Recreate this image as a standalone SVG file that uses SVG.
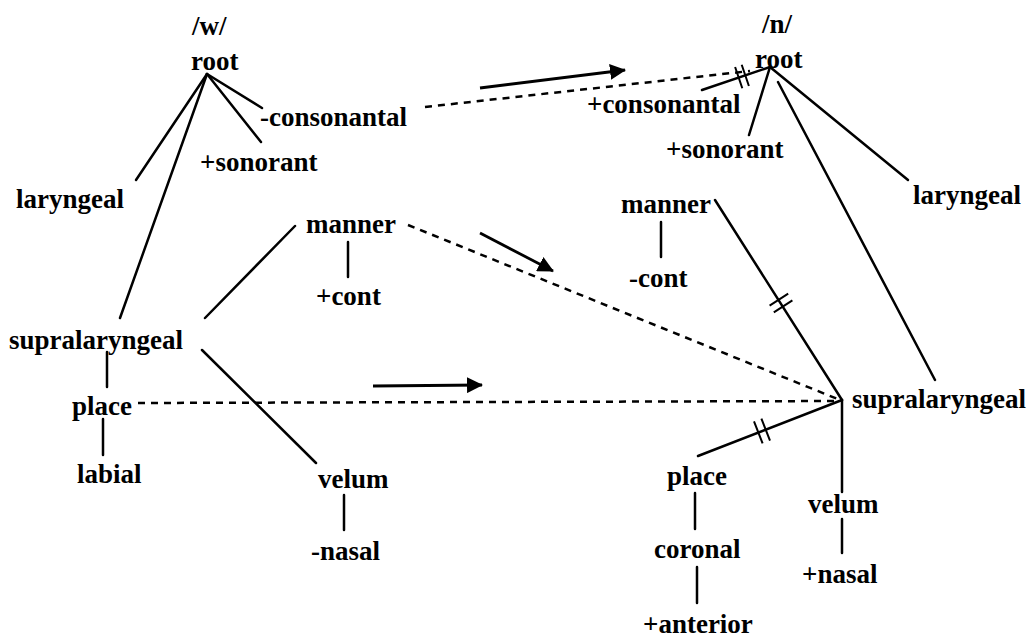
<svg xmlns="http://www.w3.org/2000/svg" width="1029" height="639" viewBox="0 0 1029 639">
<style>
text{font-family:"Liberation Serif","Times New Roman",serif;font-weight:bold;font-size:27px;fill:#000}
.l{stroke:#000;stroke-width:2.5;fill:none;stroke-linecap:round}
.d{stroke:#000;stroke-width:2.5;fill:none;stroke-dasharray:7 6}
.a{stroke:#000;stroke-width:2.8;fill:none;marker-end:url(#ah)}
.h{stroke:#000;stroke-width:2;fill:none}
</style>
<defs>
<marker id="ah" viewBox="0 0 16 16" refX="15" refY="8" markerWidth="16" markerHeight="16" markerUnits="userSpaceOnUse" orient="auto">
<path d="M0,0 L16,8 L0,16 z" fill="#000"/>
</marker>
</defs>
<rect width="1029" height="639" fill="#fff"/>
<g id="connectors">
<line class="l" x1="207" y1="74" x2="262" y2="108"/>
<line class="l" x1="207" y1="74" x2="261" y2="142"/>
<line class="l" x1="207" y1="74" x2="136" y2="180"/>
<line class="l" x1="207" y1="74" x2="120" y2="318"/>
<line class="l" x1="205" y1="318" x2="295" y2="226"/>
<line class="l" x1="348" y1="242" x2="348" y2="277"/>
<line class="l" x1="107" y1="352" x2="107" y2="387"/>
<line class="l" x1="103" y1="419" x2="103" y2="455"/>
<line class="l" x1="202" y1="350" x2="316" y2="463"/>
<line class="l" x1="344" y1="495" x2="344" y2="530"/>
<line class="l" x1="770" y1="67" x2="702" y2="90"/>
<line class="l" x1="770" y1="67" x2="749" y2="135"/>
<line class="l" x1="770" y1="67" x2="908" y2="180"/>
<line class="l" x1="778" y1="82" x2="935" y2="380"/>
<line class="l" x1="715" y1="200" x2="842" y2="400"/>
<line class="l" x1="661" y1="222" x2="661" y2="257"/>
<line class="l" x1="842" y1="400" x2="698" y2="456"/>
<line class="l" x1="842" y1="400" x2="842" y2="492"/>
<line class="l" x1="695" y1="493" x2="695" y2="529"/>
<line class="l" x1="697" y1="567" x2="697" y2="603"/>
<line class="l" x1="842" y1="519" x2="842" y2="553"/>
<line class="d" x1="425" y1="107" x2="750" y2="71"/>
<line class="d" x1="408" y1="225" x2="840" y2="400"/>
<line class="d" x1="138" y1="403" x2="840" y2="401"/>
<line class="a" x1="480" y1="88" x2="625" y2="70"/>
<line class="a" x1="480" y1="233" x2="553" y2="271"/>
<line class="a" x1="373" y1="386" x2="482" y2="385"/>
<path class="h" d="M735.1,67 L742.3,88.2 M741.7,64.8 L748.9,86"/>
<path class="h" d="M769.6,305.6 L788.2,293.6 M773.8,312.4 L792.4,300.4"/>
<path class="h" d="M754,421.4 L762.6,443.4 M761.4,418.6 L770,440.6"/>
</g>
<g id="w-label"><text x="192" y="35">/w/</text></g>
<g id="w-root"><text x="191" y="70">root</text></g>
<g id="w-consonantal"><text x="260" y="126">-consonantal</text></g>
<g id="w-sonorant"><text x="200" y="171">+sonorant</text></g>
<g id="w-laryngeal"><text x="16" y="208">laryngeal</text></g>
<g id="w-manner"><text x="306" y="233">manner</text></g>
<g id="w-cont"><text x="316" y="305">+cont</text></g>
<g id="w-supralaryngeal"><text x="9" y="349">supralaryngeal</text></g>
<g id="w-place"><text x="72" y="415">place</text></g>
<g id="w-labial"><text x="77" y="483">labial</text></g>
<g id="w-velum"><text x="318" y="488">velum</text></g>
<g id="w-nasal"><text x="311" y="560">-nasal</text></g>
<g id="n-label"><text x="762" y="33">/n/</text></g>
<g id="n-root"><text x="755" y="68">root</text></g>
<g id="n-consonantal"><text x="587" y="113">+consonantal</text></g>
<g id="n-sonorant"><text x="666" y="158">+sonorant</text></g>
<g id="n-laryngeal"><text x="913" y="204">laryngeal</text></g>
<g id="n-manner"><text x="621" y="213">manner</text></g>
<g id="n-cont"><text x="629" y="287">-cont</text></g>
<g id="n-supralaryngeal"><text x="852" y="408">supralaryngeal</text></g>
<g id="n-place"><text x="667" y="485">place</text></g>
<g id="n-coronal"><text x="654" y="558">coronal</text></g>
<g id="n-anterior"><text x="643" y="633">+anterior</text></g>
<g id="n-velum"><text x="808" y="513">velum</text></g>
<g id="n-nasal"><text x="802" y="583">+nasal</text></g>
</svg>
